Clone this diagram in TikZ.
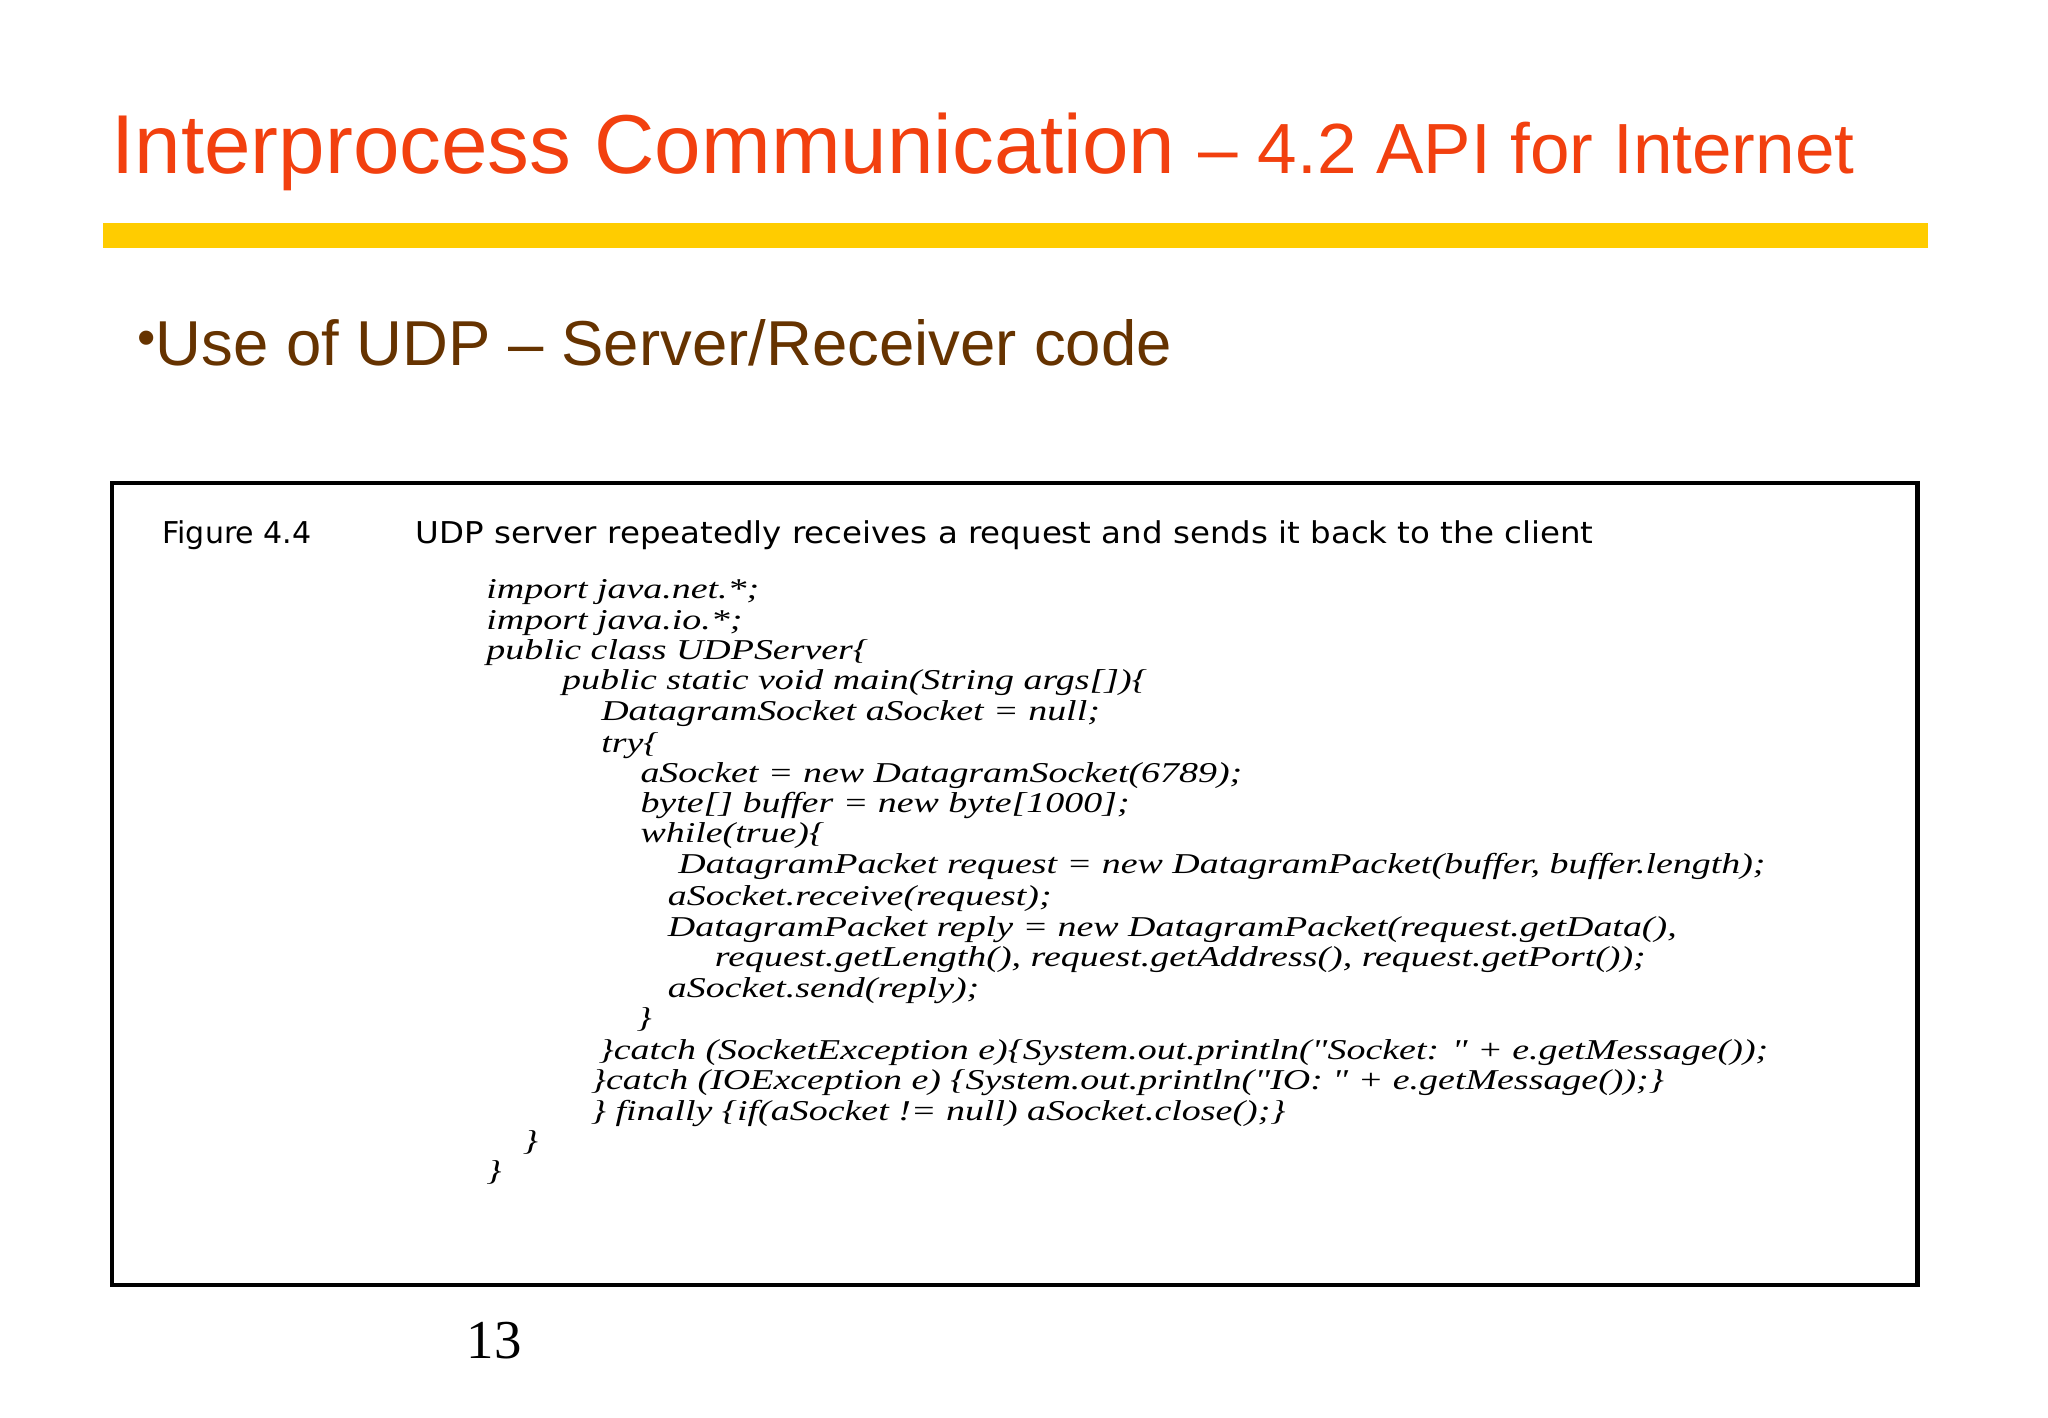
\documentclass[tikz,border=0pt]{standalone}
\usepackage{fontspec}
\setmainfont{Liberation Serif}
\setsansfont{Liberation Sans}
\newfontfamily\capfont{DejaVu Sans}
\definecolor{titlered}{HTML}{F2400F}
\definecolor{baryel}{HTML}{FFCC00}
\definecolor{brown}{HTML}{663300}
\newcommand{\cl}[1]{\scalebox{1.32}[1]{#1}}
\newcommand{\q}{\textquotedbl}
\begin{document}
\begin{tikzpicture}[x=0.5pt,y=-0.5pt,
  code/.style={anchor=base west,inner sep=0pt,font=\fontsize{11}{11}\selectfont\itshape}]
\useasboundingbox[fill=white] (0,0) rectangle (1568,1085);
\node[anchor=base west,inner sep=0pt,text=titlered,font=\sffamily] (title) at (85,133)
 {\fontsize{32}{32}\selectfont Interprocess Communication {\fontsize{27.2}{27.2}\selectfont -- 4.2 API for Internet}};
\fill[baryel] (79,171) rectangle (1476,190);
\node[anchor=base west,inner sep=0pt,text=brown,font=\sffamily\fontsize{24.3}{24.3}\selectfont] (bullet) at (105,280)
 {\raisebox{0.3ex}{\fontsize{20}{20}\selectfont\textbullet}Use of UDP -- Server/Receiver code};
\draw[line width=1.6pt] (86,370) rectangle (1468,984);
\node[anchor=base west,inner sep=0pt,font=\capfont\fontsize{11.5}{11.5}\selectfont] (fig) at (124,416) {Figure 4.4};
\node[anchor=base west,inner sep=0pt,font=\capfont\fontsize{11.5}{11.5}\selectfont] (cap) at (318,416) {\scalebox{1.08}[1]{UDP server repeatedly receives a request and sends it back to the client}};
\node[code] (l1) at (372,458) {\cl{import java.net.*;}};
\node[code] (l2) at (372,482) {\cl{import java.io.*;}};
\node[code] (l3) at (372,505) {\cl{public class UDPServer\{}};
\node[code] (l4) at (430,528) {\cl{public static void main(String args[])\{}};
\node[code] (l5) at (460,552) {\cl{DatagramSocket aSocket = null;}};
\node[code] (l6) at (460,576) {\cl{try\{}};
\node[code] (l7) at (490,599) {\cl{aSocket = new DatagramSocket(6789);}};
\node[code] (l8) at (490,622) {\cl{byte[] buffer = new byte[1000];}};
\node[code] (l9) at (490,645) {\cl{while(true)\{}};
\node[code] (l10) at (519,669) {\cl{DatagramPacket request = new DatagramPacket(buffer, buffer.length);}};
\node[code] (l11) at (511,693) {\cl{aSocket.receive(request);}};
\node[code] (l12) at (511,717) {\cl{DatagramPacket reply = new DatagramPacket(request.getData(),}};
\node[code] (l13) at (547,740) {\cl{request.getLength(), request.getAddress(), request.getPort());}};
\node[code] (l14) at (511,764) {\cl{aSocket.send(reply);}};
\node[code] (l15) at (487,787) {\cl{\}}};
\node[code] (l16) at (458,811) {\cl{\}catch (SocketException e)\{System.out.println(\q Socket: \q\ + e.getMessage());}};
\node[code] (l17) at (452,834) {\cl{\}catch (IOException e) \{System.out.println(\q IO: \q\ + e.getMessage());\}}};
\node[code] (l18) at (452,858) {\cl{\} finally \{if(aSocket != null) aSocket.close();\}}};
\node[code] (l19) at (400,881) {\cl{\}}};
\node[code] (l20) at (372,904) {\cl{\}}};
\node[anchor=base west,inner sep=0pt,font=\fontsize{21}{21}\selectfont] (pg) at (357,1040) {13};
\end{tikzpicture}
\end{document}
